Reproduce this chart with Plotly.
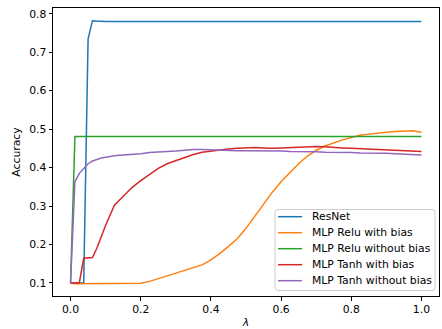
import plotly.graph_objects as go

lam = [0, 0.0125, 0.025, 0.0375, 0.05, 0.0625, 0.075, 0.0875,
       0.1, 0.125, 0.15, 0.175, 0.2, 0.225, 0.25, 0.275, 0.3, 0.325, 0.35, 0.375,
       0.4, 0.425, 0.45, 0.475, 0.5, 0.525, 0.55, 0.575, 0.6, 0.625, 0.65, 0.675,
       0.7, 0.725, 0.75, 0.775, 0.8, 0.825, 0.85, 0.875, 0.9, 0.925, 0.95, 0.975, 1.0]

resnet = [0.1, 0.1, 0.1, 0.1, 0.735, 0.782, 0.781, 0.78,
          0.78, 0.78, 0.78, 0.78, 0.78, 0.78, 0.78, 0.78, 0.78, 0.78, 0.78, 0.78,
          0.78, 0.78, 0.78, 0.78, 0.78, 0.78, 0.78, 0.78, 0.78, 0.78, 0.78, 0.78,
          0.78, 0.78, 0.78, 0.78, 0.78, 0.78, 0.78, 0.78, 0.78, 0.78, 0.78, 0.78, 0.78]

relu_bias = [0.1, 0.098, 0.098, 0.098, 0.098, 0.098, 0.098, 0.098,
             0.098, 0.098, 0.098, 0.098, 0.099, 0.104, 0.111, 0.119, 0.126, 0.133, 0.139, 0.147,
             0.16, 0.176, 0.195, 0.215, 0.242, 0.273, 0.306, 0.336, 0.363, 0.387, 0.41, 0.43,
             0.445, 0.456, 0.465, 0.472, 0.478, 0.484, 0.487, 0.49, 0.492, 0.494, 0.495, 0.496, 0.492]

relu_nobias = [0.1, 0.481, 0.481, 0.481, 0.481, 0.481, 0.481, 0.481,
               0.481, 0.481, 0.481, 0.481, 0.481, 0.481, 0.481, 0.481, 0.481, 0.481, 0.481, 0.481,
               0.481, 0.481, 0.481, 0.481, 0.481, 0.481, 0.481, 0.481, 0.481, 0.481, 0.481, 0.481,
               0.481, 0.481, 0.481, 0.481, 0.481, 0.481, 0.481, 0.481, 0.481, 0.481, 0.481, 0.481, 0.481]

tanh_bias = [0.1, 0.1, 0.1, 0.164, 0.165, 0.166, 0.19, 0.22,
             0.25, 0.302, 0.325, 0.348, 0.366, 0.381, 0.398, 0.41, 0.418, 0.427, 0.434, 0.44,
             0.443, 0.446, 0.448, 0.45, 0.451, 0.452, 0.451, 0.45, 0.451, 0.452, 0.454, 0.455,
             0.455, 0.454, 0.452, 0.451, 0.45, 0.449, 0.449, 0.448, 0.447, 0.446, 0.445, 0.443, 0.442]

tanh_nobias = [0.1, 0.363, 0.385, 0.398, 0.41, 0.417, 0.422, 0.425,
               0.427, 0.431, 0.433, 0.434, 0.436, 0.439, 0.441, 0.442, 0.443, 0.445, 0.447, 0.447,
               0.446, 0.445, 0.445, 0.444, 0.444, 0.444, 0.443, 0.443, 0.443, 0.442, 0.442, 0.441,
               0.441, 0.44, 0.44, 0.439, 0.439, 0.438, 0.438, 0.437, 0.437, 0.436, 0.435, 0.434, 0.433]

series_names = ["ResNet", "MLP Relu with bias", "MLP Relu without bias",
                "MLP Tanh with bias", "MLP Tanh without bias"]
series_values = [resnet, relu_bias, relu_nobias, tanh_bias, tanh_nobias]
series_colors = ["#1f77b4", "#ff7f0e", "#2ca02c", "#d62728", "#9467bd"]

x_ticks = [0.0, 0.2, 0.4, 0.6, 0.8, 1.0]
y_ticks = [0.1, 0.2, 0.3, 0.4, 0.5, 0.6, 0.7, 0.8]

W, H = 442, 329
ML, MR, MT, MB = 53, 3, 8, 33
PW, PH = W - ML - MR, H - MT - MB

def px(x):
    return (x - ML) / PW

def py(y):
    return (H - MB - y) / PH

fig = go.Figure()
for name, vals, color in zip(series_names, series_values, series_colors):
    fig.add_trace(go.Scatter(x=lam, y=vals, mode="lines", name=name,
                             showlegend=False, hoverinfo="skip",
                             line=dict(color=color, width=1.5)))

FS = 10.8
font = dict(family="DejaVu Sans", size=FS, color="black")

# matplotlib-like legend (box, handles, labels)
bx0, bx1, by0, by1, r = 275, 435, 209.5, 290.5, 3
rx, ry = r / PW, r / PH
x0, x1, y0, y1 = px(bx0), px(bx1), py(by1), py(by0)
path = (f"M {x0+rx},{y0} L {x1-rx},{y0} Q {x1},{y0} {x1},{y0+ry} "
        f"L {x1},{y1-ry} Q {x1},{y1} {x1-rx},{y1} L {x0+rx},{y1} "
        f"Q {x0},{y1} {x0},{y1-ry} L {x0},{y0+ry} Q {x0},{y0} {x0+rx},{y0} Z")
shapes = [dict(type="path", path=path, xref="paper", yref="paper", layer="above",
               fillcolor="rgba(255,255,255,0.8)", line=dict(color="#cccccc", width=1))]
annotations = []
row0, row_step = 216.7, 16.0
for i, (name, color) in enumerate(zip(series_names, series_colors)):
    yy = py(row0 + i * row_step)
    shapes.append(dict(type="line", xref="paper", yref="paper", layer="above",
                       x0=px(278), x1=px(302), y0=yy, y1=yy,
                       line=dict(color=color, width=1.5)))
    annotations.append(dict(x=px(310), y=yy, xref="paper", yref="paper",
                            text=name, showarrow=False, xanchor="left",
                            yanchor="middle", font=font))

fig.update_layout(
    width=W, height=H,
    margin=dict(l=ML, r=MR, t=MT, b=MB, autoexpand=False),
    paper_bgcolor="white", plot_bgcolor="white",
    font=font,
    showlegend=False,
    shapes=shapes,
    annotations=annotations,
    xaxis=dict(range=[-0.05, 1.05], tickvals=x_ticks,
               ticktext=[f"{v:.1f}" for v in x_ticks],
               showgrid=False, zeroline=False, automargin=False,
               showline=True, linecolor="black", linewidth=1, mirror=True,
               ticks="outside", ticklen=3.5, tickwidth=0.8, tickcolor="black",
               title=dict(text="<i>λ</i>", standoff=4, font=font)),
    yaxis=dict(range=[0.066, 0.815], tickvals=y_ticks,
               ticktext=[f"{v:.1f}" for v in y_ticks],
               showgrid=False, zeroline=False, automargin=False,
               showline=True, linecolor="black", linewidth=1, mirror=True,
               ticks="outside", ticklen=3.5, tickwidth=0.8, tickcolor="black",
               title=dict(text="Accuracy", standoff=6, font=font)),
)

fig.write_html("out.html", config={"displayModeBar": False},
               post_script="document.body.style.margin='0';document.body.style.padding='0';")
